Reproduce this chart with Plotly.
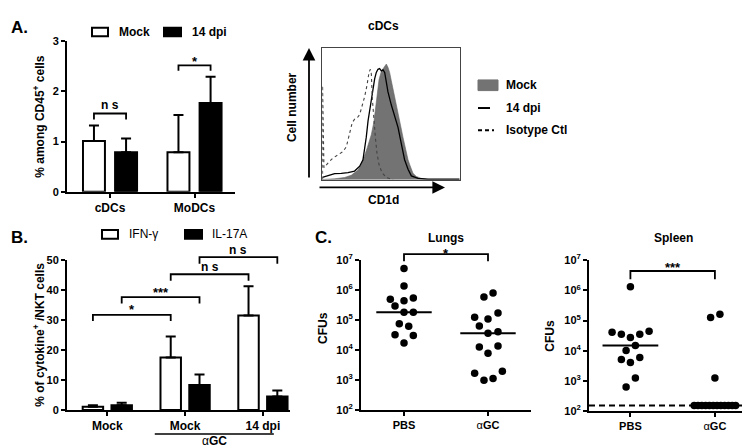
import numpy as np
import plotly.graph_objects as go

W, H = 750, 448
FONT = "Liberation Sans, Arial, sans-serif"

# ---------------- data ----------------
# Panel A (bar chart)
a_categories = ["cDCs", "MoDCs"]
a_mock = [1.01, 0.79]
a_mock_err = [0.31, 0.74]
a_14dpi = [0.79, 1.77]
a_14dpi_err = [0.27, 0.52]
a_ticks = [0, 1, 2, 3]

# Panel A (CD1d histogram, relative fluorescence / relative count)
hist_mock_x = [0, 9.0, 16.3, 21.1, 26.0, 29.6, 32.8, 35.7, 37.6, 38.8, 40.0, 41.3, 43.0, 44.9, 46.6,
               47.8, 49.0, 50.2, 51.5, 52.7, 53.9, 55.1, 56.3, 57.5, 58.7, 60.0, 61.2, 62.4, 63.6,
               64.8, 66.0, 68.4, 72.1, 76.9, 100]
hist_mock_y = [0.2, 0.7, 1.7, 3.4, 7.4, 14.7, 24.6, 34.4, 44.2, 54.1, 65.6, 76.2, 82.6, 85.5, 88.0,
               85.5, 81.6, 75.4, 69.3, 62.4, 57.0, 50.1, 44.7, 38.6, 32.4, 25.6, 21.4, 15.2, 11.5,
               7.9, 4.9, 2.5, 1.0, 0.2, 0.2]
hist_14dpi_x = [0, 4.1, 9.0, 13.8, 18.7, 23.5, 27.2, 29.6, 30.8, 32.0, 33.3, 34.5, 35.7, 36.9, 38.1,
                39.3, 40.5, 41.7, 43.0, 44.2, 45.4, 46.6, 47.8, 50.2, 52.7, 55.1, 57.5, 59.9, 62.4,
                64.8, 69.7, 76.9, 100]
hist_14dpi_y = [1.7, 2.9, 4.7, 4.9, 5.4, 6.6, 10.3, 15.2, 22.6, 32.4, 44.7, 53.3, 59.5, 66.8, 76.7,
                81.6, 84.0, 84.5, 82.8, 83.5, 81.6, 74.2, 66.8, 57.0, 47.2, 39.8, 27.5, 15.2, 7.9,
                2.9, 1.0, 0.5, 0.5]
hist_iso_x = [0.2, 0.2, 1.2, 2.9, 5.3, 7.8, 10.2, 12.6, 15.0, 17.5, 19.9, 21.8, 23.5, 25.5, 27.2,
              28.9, 30.8, 32.5, 34.0, 35.0, 35.7, 36.4, 37.4, 38.6, 39.8, 41.3, 43.4, 46.6, 51.5]
hist_iso_y = [0, 71.7, 9.1, 11.5, 14.0, 16.5, 18.2, 19.7, 21.4, 25.1, 34.9, 43.5, 46.0, 47.2, 49.6,
              55.8, 63.1, 71.7, 81.6, 84.0, 80.3, 61.9, 47.2, 32.4, 20.1, 11.5, 5.4, 1.7, 0]

# Panel B
b_categories = ["Mock", "Mock", "14 dpi"]
b_ifng = [1.1, 17.5, 31.5]
b_ifng_err = [0.5, 7.0, 9.7]
b_il17 = [1.6, 8.3, 4.5]
b_il17_err = [0.8, 3.5, 2.0]
b_ticks = [0, 10, 20, 30, 40, 50]

# Panel C (CFUs)
c_groups = ["<b>PBS</b>", "α<b>GC</b>"]
cfu_ticks = [1e2, 1e3, 1e4, 1e5, 1e6, 1e7]
cfu_ticktext = ["<b>10<sup>2</sup></b>", "<b>10<sup>3</sup></b>", "<b>10<sup>4</sup></b>",
                "<b>10<sup>5</sup></b>", "<b>10<sup>6</sup></b>", "<b>10<sup>7</sup></b>"]
lung_pbs = [5.1e6, 1.35e6, 4.9e5, 4.3e5, 5.4e5, 2.9e5, 1.8e5, 1.8e5, 7.4e4, 6.2e4, 3.2e4, 3.0e4, 1.7e4]
lung_agc = [5.8e5, 7.9e5, 1.23e5, 1.07e5, 1.7e5, 6.3e4, 3.6e4, 4.0e4, 1.26e4, 1.35e4, 7.8e3,
            1.66e3, 1.95e3, 980, 1.12e3]
spleen_pbs = [1.32e6, 4.1e4, 3.5e4, 2.75e4, 3.5e4, 4.4e4, 1.5e4, 1.02e4, 5.2e3, 4.1e3, 6.0e3, 1.26e3, 630]
spleen_agc = [1.26e5, 1.62e5, 1.26e3] + [155] * 12
spleen_lod = 155

# scatter arrangement (horizontal spread of dots within a column, in category units)
lung_pbs_dx = [0, 0, -0.163, 0, 0.111, -0.107, 0, 0.111, -0.056, 0.056, -0.107, 0.111, 0]
lung_agc_dx = [-0.048, 0.06, -0.159, 0.0, 0.119, -0.103, 0.0, 0.119, -0.103, 0.119, 0.0,
               -0.159, 0.171, -0.048, 0.06]
spleen_pbs_dx = [0, -0.217, -0.107, 0, 0.111, 0.221, 0.059, -0.051, -0.107, 0, 0.111, 0.059, -0.051]
spleen_agc_dx = [-0.051, 0.059, 0, -0.245, -0.2, -0.155, -0.11, -0.065, -0.02, 0.025, 0.07,
                 0.115, 0.16, 0.205, 0.245]

# ---------------- geometry helpers ----------------
def px(x):
    return x / W


def py(y):
    return 1 - y / H


A_XDOM = [px(59), px(227)]
A_YDOM = [py(181.5), py(26)]
A_XR = [-0.509, 1.479]
A_YR = [0, 3]
HI_XDOM = [px(314.3), px(451.7)]
HI_YDOM = [py(169), py(33.3)]
B_XDOM = [px(59), px(282)]
B_YDOM = [py(406.7), py(251.7)]
B_XR = [-0.518, 2.348]
B_YR = [0, 50]
L_XDOM = [px(353), px(523)]
L_YDOM = [py(406.7), py(251.7)]
L_XR = [-0.512, 1.512]
S_XDOM = [px(581), px(750)]
S_YDOM = [py(408), py(252)]
S_XR = [-0.49, 1.51]
LOG_R = [2, 7]


def ypaper(dom, rng, v, log=False):
    t = np.log10(v) if log else v
    return dom[0] + (t - rng[0]) / (rng[1] - rng[0]) * (dom[1] - dom[0])


def bold(seq):
    return [f"<b>{s}</b>" for s in seq]


fig = go.Figure()

# ---------------- Panel A bars ----------------
A_OFF = 0.19
A_W = 0.26
ax_a = np.arange(len(a_categories))
for vals, errs, col in [(a_mock, a_mock_err, "white"), (a_14dpi, a_14dpi_err, "black")]:
    off = -A_OFF - A_W / 2 if col == "white" else A_OFF - A_W / 2
    fig.add_trace(go.Bar(
        x=ax_a, y=vals, width=A_W, offset=off, xaxis="x", yaxis="y",
        marker=dict(color=col, line=dict(color="black", width=2)),
        error_y=dict(type="data", array=errs, arrayminus=[0] * len(errs), symmetric=False,
                     color="black", thickness=2, width=5),
        showlegend=False))

# ---------------- Histogram ----------------
fig.add_trace(go.Scatter(x=hist_mock_x, y=hist_mock_y, mode="lines", fill="tozeroy",
                         fillcolor="#737373", line=dict(color="#666", width=0.6),
                         xaxis="x2", yaxis="y2", showlegend=False))
fig.add_trace(go.Scatter(x=hist_14dpi_x, y=hist_14dpi_y, mode="lines",
                         line=dict(color="black", width=1.3),
                         xaxis="x2", yaxis="y2", showlegend=False))
fig.add_trace(go.Scatter(x=hist_iso_x, y=hist_iso_y, mode="lines",
                         line=dict(color="#444", width=1.1, dash="dot"),
                         xaxis="x2", yaxis="y2", showlegend=False))

# ---------------- Panel B bars ----------------
B_OFF = 0.185
B_W = 0.263
ax_b = np.arange(len(b_categories))
for vals, errs, col in [(b_ifng, b_ifng_err, "white"), (b_il17, b_il17_err, "black")]:
    off = -B_OFF - B_W / 2 if col == "white" else B_OFF - B_W / 2
    fig.add_trace(go.Bar(
        x=ax_b, y=vals, width=B_W, offset=off, xaxis="x3", yaxis="y3",
        marker=dict(color=col, line=dict(color="black", width=2)),
        error_y=dict(type="data", array=errs, arrayminus=[0] * len(errs), symmetric=False,
                     color="black", thickness=2, width=5),
        showlegend=False))

# ---------------- Panel C dot plots ----------------
MED_HALF = 0.33
for xa, ya, groups, dxs in [
        ("x4", "y4", [lung_pbs, lung_agc], [lung_pbs_dx, lung_agc_dx]),
        ("x5", "y5", [spleen_pbs, spleen_agc], [spleen_pbs_dx, spleen_agc_dx])]:
    for gi, (vals, dx) in enumerate(zip(groups, dxs)):
        fig.add_trace(go.Scatter(x=gi + np.array(dx), y=vals, mode="markers",
                                 marker=dict(color="black", size=7.5),
                                 xaxis=xa, yaxis=ya, cliponaxis=False, showlegend=False))
        med = float(np.median(vals))
        if med > spleen_lod * 1.01:
            fig.add_trace(go.Scatter(x=[gi - MED_HALF, gi + MED_HALF], y=[med, med], mode="lines",
                                     line=dict(color="black", width=2),
                                     xaxis=xa, yaxis=ya, showlegend=False))
# limit of detection line (spleen)
fig.add_trace(go.Scatter(x=S_XR, y=[spleen_lod, spleen_lod], mode="lines",
                         line=dict(color="black", width=2, dash="6px,4px"),
                         xaxis="x5", yaxis="y5", showlegend=False))

# ---------------- axes ----------------
tickfont = dict(family=FONT, size=11, color="black")
catfont = dict(family=FONT, size=12, color="black")
base = dict(showline=True, linecolor="black", linewidth=2, ticks="outside", ticklen=4,
            tickwidth=2, tickcolor="black", showgrid=False, zeroline=False, fixedrange=True)

fig.update_layout(
    width=W, height=H, margin=dict(l=0, r=0, t=0, b=0),
    paper_bgcolor="white", plot_bgcolor="white", barmode="overlay",
    font=dict(family=FONT, color="black"),
    xaxis=dict(base, domain=A_XDOM, range=A_XR, anchor="y", tickvals=list(ax_a),
               ticktext=bold(a_categories), tickfont=catfont),
    yaxis=dict(base, domain=A_YDOM, range=A_YR, anchor="x", tickvals=a_ticks,
               ticktext=bold(a_ticks), tickfont=tickfont),
    xaxis2=dict(domain=HI_XDOM, range=[0, 100], anchor="y2", showline=True, mirror=True,
                linecolor="#444", linewidth=1, showticklabels=False, ticks="", showgrid=False,
                zeroline=False),
    yaxis2=dict(domain=HI_YDOM, range=[0, 100], anchor="x2", showline=True, mirror=True,
                linecolor="#444", linewidth=1, showticklabels=False, ticks="", showgrid=False,
                zeroline=False),
    xaxis3=dict(base, domain=B_XDOM, range=B_XR, anchor="y3", tickvals=list(ax_b),
                ticktext=bold(b_categories), tickfont=catfont),
    yaxis3=dict(base, domain=B_YDOM, range=B_YR, anchor="x3", tickvals=b_ticks,
                ticktext=bold(b_ticks), tickfont=tickfont),
    xaxis4=dict(base, domain=L_XDOM, range=L_XR, anchor="y4", tickvals=[0, 1],
                ticktext=c_groups, tickfont=tickfont),
    yaxis4=dict(base, domain=L_YDOM, type="log", range=LOG_R, anchor="x4", tickvals=cfu_ticks,
                ticktext=cfu_ticktext, tickfont=tickfont),
    xaxis5=dict(base, domain=S_XDOM, range=S_XR, anchor="y5", tickvals=[0, 1],
                ticktext=c_groups, tickfont=tickfont),
    yaxis5=dict(base, domain=S_YDOM, type="log", range=LOG_R, anchor="x5", tickvals=cfu_ticks,
                ticktext=cfu_ticktext, tickfont=tickfont),
)

# ---------------- annotations & shapes ----------------
anns = []
shapes = []


def text(x, y, s, size=12, xref="paper", yref="paper", xanchor="center", yanchor="middle",
         angle=0, weight="bold"):
    anns.append(dict(x=x, y=y, text=s, xref=xref, yref=yref, xanchor=xanchor, yanchor=yanchor,
                     textangle=angle, showarrow=False,
                     font=dict(family=FONT, size=size, color="black", weight=weight)))


def bracket(xref, x0, x1, ytop, ybot, lw=1.8):
    shapes.append(dict(type="path", xref=xref, yref="paper",
                       path=f"M {x0},{ybot} L {x0},{ytop} L {x1},{ytop} L {x1},{ybot}",
                       line=dict(color="black", width=lw)))


# panel letters
text(px(1), py(12), "A.", size=17, xanchor="left")
text(px(1), py(229), "B.", size=17, xanchor="left")
text(px(305), py(229), "C.", size=17, xanchor="left")

# Panel A legend
shapes.append(dict(type="rect", xref="paper", yref="paper", x0=px(84), x1=px(100), y0=py(21),
                   y1=py(12), fillcolor="white", line=dict(color="black", width=2)))
text(px(109), py(16.5), "Mock", xanchor="left")
shapes.append(dict(type="rect", xref="paper", yref="paper", x0=px(156), x1=px(173), y0=py(21),
                   y1=py(12), fillcolor="black", line=dict(color="black", width=2)))
text(px(182), py(16.5), "14 dpi", xanchor="left")
text(px(31), py(104), "% among CD45<sup>+</sup> cells", angle=-90)

# Panel A brackets
bracket("x", -A_OFF, A_OFF, ypaper(A_YDOM, A_YR, 1.56), ypaper(A_YDOM, A_YR, 1.44))
text(0, ypaper(A_YDOM, A_YR, 1.72), "n s", xref="x", size=12)
bracket("x", 1 - A_OFF, 1 + A_OFF, ypaper(A_YDOM, A_YR, 2.52), ypaper(A_YDOM, A_YR, 2.41))
text(1, py(47), "*", xref="x", size=13)

# Histogram labels, arrows, legend
text(px(375), py(10), "cDCs")
text(px(375), py(190), "CD1d")
text(px(284), py(94), "Cell number", angle=-90)
anns.append(dict(x=px(301), y=py(33), xref="paper", yref="paper", ax=0, ay=131, text="",
                 showarrow=True, arrowhead=2, arrowsize=1.4, arrowwidth=1.8, arrowcolor="black"))
anns.append(dict(x=px(437), y=py(177), xref="paper", yref="paper", ax=-127, ay=0, text="",
                 showarrow=True, arrowhead=2, arrowsize=1.4, arrowwidth=1.8, arrowcolor="black"))
shapes.append(dict(type="rect", xref="paper", yref="paper", x0=px(470), x1=px(490), y0=py(77),
                   y1=py(66), fillcolor="#737373", line=dict(color="#737373", width=1)))
text(px(496), py(71), "Mock", xanchor="left")
shapes.append(dict(type="line", xref="paper", yref="paper", x0=px(470), x1=px(482), y0=py(95),
                   y1=py(95), line=dict(color="black", width=2)))
text(px(496), py(95), "14 dpi", xanchor="left")
shapes.append(dict(type="line", xref="paper", yref="paper", x0=px(470), x1=px(486), y0=py(118),
                   y1=py(118), line=dict(color="black", width=2, dash="4px,3px")))
text(px(496), py(118), "Isotype Ctl", xanchor="left")

# Panel B legend & labels
shapes.append(dict(type="rect", xref="paper", yref="paper", x0=px(94), x1=px(110), y0=py(230),
                   y1=py(221), fillcolor="white", line=dict(color="black", width=2)))
text(px(119), py(225.5), "IFN-γ", xanchor="left", weight="normal")
shapes.append(dict(type="rect", xref="paper", yref="paper", x0=px(177), x1=px(194), y0=py(230),
                   y1=py(221), fillcolor="black", line=dict(color="black", width=2)))
text(px(202), py(225.5), "IL-17A", xanchor="left", weight="normal")
text(px(31), py(329), "% of cytokine<sup>+</sup> <i>i</i>NKT cells", angle=-90)

# Panel B brackets
bk = [(-B_OFF, 1 - B_OFF, 31.7, 29.6, "*", 302.5),
      (B_OFF, 1 + B_OFF, 37.6, 35.5, "***", 285.5),
      (1 - B_OFF, 2 - B_OFF, 45.2, 43.0, "n s", 259.5),
      (1 + B_OFF, 2 + B_OFF, 50.9, 48.7, "n s", 241.5)]
for x0, x1, yt, yb, lab, ylab in bk:
    bracket("x3", x0, x1, ypaper(B_YDOM, B_YR, yt), ypaper(B_YDOM, B_YR, yb))
    text((x0 + x1) / 2, py(ylab), lab, xref="x3", size=13 if "*" in lab else 12)

# alpha-GC grouping line
shapes.append(dict(type="line", xref="x3", yref="paper", x0=0.61, x1=2.14, y0=py(431.5),
                   y1=py(431.5), line=dict(color="black", width=1.5)))
text(1.375, 0.0, "α<b>GC</b>", xref="x3", weight="normal", size=12, yanchor="bottom")

# Panel C titles and labels
text(px(438), py(229), "Lungs")
text(px(665), py(229), "Spleen")
text(px(315), py(322), "CFUs", angle=-90)
text(px(542), py(330), "CFUs", angle=-90)
bracket("x4", 0, 1, ypaper(L_YDOM, LOG_R, 10 ** 7.19, log=True),
        ypaper(L_YDOM, LOG_R, 10 ** 6.95, log=True))
text(0.5, py(245), "*", xref="x4", size=13)
bracket("x5", 0, 1, ypaper(S_YDOM, LOG_R, 10 ** 6.64, log=True),
        ypaper(S_YDOM, LOG_R, 10 ** 6.37, log=True))
text(0.5, py(259.5), "***", xref="x5", size=13)

fig.update_layout(annotations=anns, shapes=shapes)
fig.write_html("out.html")
